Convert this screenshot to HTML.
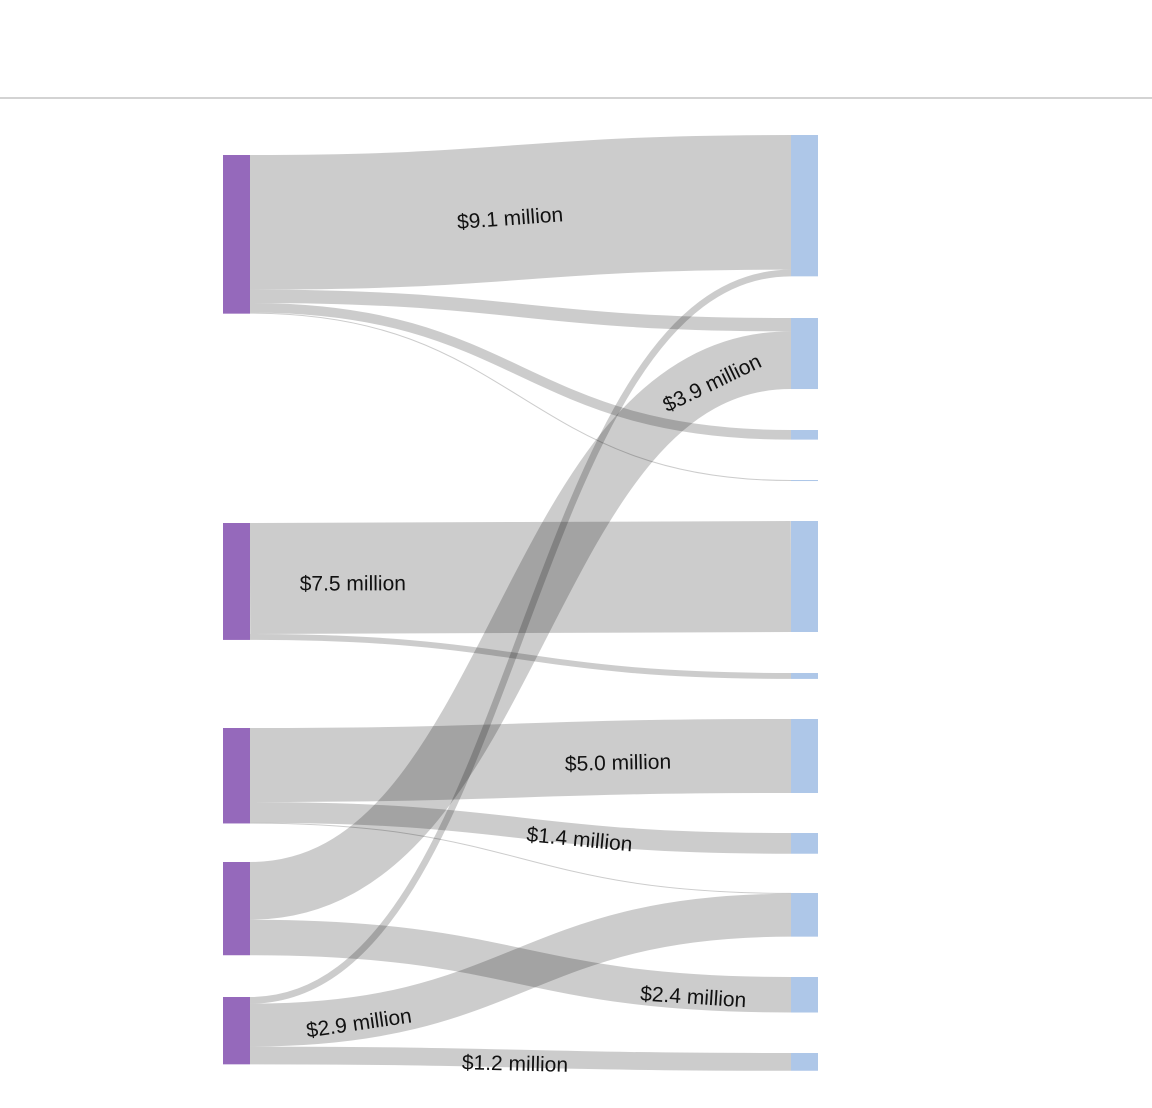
<!DOCTYPE html>
<html><head><meta charset="utf-8">
<style>
html,body{margin:0;padding:0;background:#fff;}
svg{display:block;font-family:"Liberation Sans",sans-serif;}
</style></head>
<body>
<svg id="chart" width="1152" height="1108" viewBox="0 0 1152 1108">
<line x1="0" y1="98" x2="1152" y2="98" stroke="#d3d3d3" stroke-width="2"/>
<g id="links"></g>
<g id="nodes"></g>
<g id="labels"></g>
</svg>
<script>
// data (millions of dollars)
const linkSource = [0,0,0,0, 1,1, 2,2,2, 3,3, 4,4,4];
const linkTarget = [0,1,2,3, 4,5, 6,7,8, 1,9, 0,8,10];
const linkValue  = [9.1,0.9,0.65,0.07, 7.5,0.4, 5.0,1.4,0.05, 3.9,2.4, 0.45,2.9,1.2];
const labelMin = 1.0;
// layout
const labelFrac = [0.48,0,0,0, 0.19,0, 0.68,0.61,0, 0.85,0.82, 0,0.2,0.49];
const sourceTop = [155,523,728,862,997];
const targetTop = [135,318,430,480,521,673,719,833,893,977,1053];
const k = 14.8, sx0 = 223, sx1 = 250, tx0 = 791, tx1 = 818;
const NS = 'http://www.w3.org/2000/svg';
const gL = document.getElementById('links'), gN = document.getElementById('nodes'), gT = document.getElementById('labels');

const srcH = sourceTop.map(()=>0), tgtH = targetTop.map(()=>0);
linkValue.forEach((v,i)=>{srcH[linkSource[i]]+=v*k; tgtH[linkTarget[i]]+=v*k;});
const srcOff = sourceTop.slice(), tgtOff = targetTop.slice();
const idx = linkValue.map((_,i)=>i);
const y0 = [], y1 = [];
idx.slice().sort((a,b)=>linkSource[a]-linkSource[b]||linkTarget[a]-linkTarget[b]).forEach(i=>{
  const w=linkValue[i]*k; y0[i]=srcOff[linkSource[i]]+w/2; srcOff[linkSource[i]]+=w;});
idx.slice().sort((a,b)=>linkTarget[a]-linkTarget[b]||linkSource[a]-linkSource[b]).forEach(i=>{
  const w=linkValue[i]*k; y1[i]=tgtOff[linkTarget[i]]+w/2; tgtOff[linkTarget[i]]+=w;});

const xm=(sx1+tx0)/2;
function bez(t,a,b,c,d){const u=1-t;return u*u*u*a+3*u*u*t*b+3*u*t*t*c+t*t*t*d;}
function dbez(t,a,b,c,d){const u=1-t;return 3*u*u*(b-a)+6*u*t*(c-b)+3*t*t*(d-c);}

idx.forEach(i=>{
  const p=document.createElementNS(NS,'path');
  p.setAttribute('d',`M${sx1},${y0[i]}C${xm},${y0[i]} ${xm},${y1[i]} ${tx0},${y1[i]}`);
  p.setAttribute('fill','none');
  p.setAttribute('stroke','rgba(0,0,0,0.2)');
  p.setAttribute('stroke-width',Math.max(1,linkValue[i]*k));
  
  
  gL.appendChild(p);
  if(linkValue[i]>=labelMin){
    const tx=sx1+(tx0-sx1)*labelFrac[i];
    let lo=0,hi=1;
    for(let n=0;n<40;n++){const m=(lo+hi)/2; if(bez(m,sx1,xm,xm,tx0)<tx)lo=m;else hi=m;}
    const t=(lo+hi)/2;
    const x=bez(t,sx1,xm,xm,tx0), y=bez(t,y0[i],y0[i],y1[i],y1[i]);
    const ang=Math.atan2(dbez(t,y0[i],y0[i],y1[i],y1[i]),dbez(t,sx1,xm,xm,tx0))*180/Math.PI;
    const tEl=document.createElementNS(NS,'text');
    tEl.setAttribute('transform',`translate(${x},${y}) rotate(${ang})`);
    tEl.setAttribute('text-anchor','middle');
    tEl.setAttribute('dy','12');
    tEl.setAttribute('font-size','21');
    tEl.setAttribute('fill','#111');
    tEl.textContent='$'+linkValue[i].toFixed(1)+' million';
    
    
    gT.appendChild(tEl);
  }
});
sourceTop.forEach((y,j)=>{
  const r=document.createElementNS(NS,'rect');
  r.setAttribute('x',sx0);r.setAttribute('y',y);r.setAttribute('width',sx1-sx0);r.setAttribute('height',Math.max(1,srcH[j]));
  r.setAttribute('fill','#9569bb');
  
  
  gN.appendChild(r);
});
targetTop.forEach((y,j)=>{
  const r=document.createElementNS(NS,'rect');
  r.setAttribute('x',tx0);r.setAttribute('y',y);r.setAttribute('width',tx1-tx0);r.setAttribute('height',Math.max(1,tgtH[j]));
  r.setAttribute('fill','#aec7e8');
  
  
  gN.appendChild(r);
});
</script>
</body></html>
